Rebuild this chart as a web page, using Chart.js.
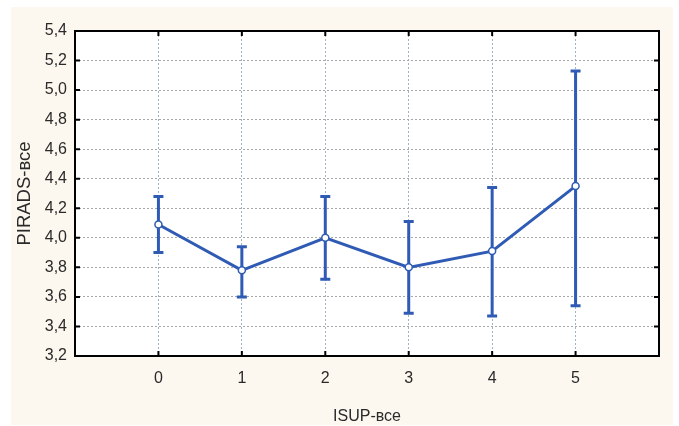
<!DOCTYPE html>
<html>
<head>
<meta charset="utf-8">
<script src="https://cdn.jsdelivr.net/npm/chart.js@4/dist/chart.umd.min.js"></script>
<style>
  body { margin: 0; background: #ffffff; }
  #wrap { width: 679px; height: 426px; }
</style>
</head>
<body>
<div id="wrap"><canvas id="myChart" width="679" height="426"></canvas></div>
<script>
'use strict';
// ISUP groups and PIRADS mean with interval bounds
const isupGroups = [0, 1, 2, 3, 4, 5];
const piradsMean = [4.09, 3.78, 4.00, 3.80, 3.91, 4.35];
const piradsLower = [3.90, 3.60, 3.72, 3.49, 3.47, 3.54];
const piradsUpper = [4.28, 3.94, 4.28, 4.11, 4.34, 5.13];
const yTicks = [3.2, 3.4, 3.6, 3.8, 4.0, 4.2, 4.4, 4.6, 4.8, 5.0, 5.2, 5.4];

const blue = '#2f5bb5';
const fontFamily = '"Liberation Sans", Arial, sans-serif';

const points = isupGroups.map((g, i) => ({ x: g, y: piradsMean[i] }));

const panelBg = {
  id: 'panelBg',
  beforeDraw(chart) {
    const ctx = chart.ctx;
    const a = chart.chartArea;
    ctx.save();
    ctx.fillStyle = '#fdf8ef';
    ctx.fillRect(11, 7, 662, 418);
    ctx.fillStyle = '#ffffff';
    ctx.fillRect(a.left, a.top, a.right - a.left, a.bottom - a.top);
    ctx.restore();
  }
};

const errorBars = {
  id: 'errorBars',
  beforeDatasetsDraw(chart) {
    const ctx = chart.ctx;
    const xs = chart.scales.x;
    const ys = chart.scales.y;
    ctx.save();
    ctx.strokeStyle = blue;
    ctx.lineWidth = 3;
    isupGroups.forEach((g, i) => {
      const px = xs.getPixelForValue(g);
      const top = ys.getPixelForValue(piradsUpper[i]);
      const bot = ys.getPixelForValue(piradsLower[i]);
      ctx.beginPath();
      ctx.moveTo(px, top);
      ctx.lineTo(px, bot);
      ctx.moveTo(px - 5, top);
      ctx.lineTo(px + 5, top);
      ctx.moveTo(px - 5, bot);
      ctx.lineTo(px + 5, bot);
      ctx.stroke();
    });
    ctx.restore();
  }
};

const frame = {
  id: 'frame',
  afterDatasetsDraw(chart) {
    const ctx = chart.ctx;
    const a = chart.chartArea;
    const xs = chart.scales.x;
    const ys = chart.scales.y;
    ctx.save();
    ctx.strokeStyle = '#000000';
    ctx.lineWidth = 2;
    ctx.strokeRect(a.left, a.top, a.right - a.left, a.bottom - a.top);
    ctx.beginPath();
    isupGroups.forEach(g => {
      const px = xs.getPixelForValue(g);
      ctx.moveTo(px, a.bottom);
      ctx.lineTo(px, a.bottom - 5);
      ctx.moveTo(px, a.top);
      ctx.lineTo(px, a.top + 5);
    });
    yTicks.forEach(v => {
      const py = ys.getPixelForValue(v);
      ctx.moveTo(a.left, py);
      ctx.lineTo(a.left + 5, py);
      ctx.moveTo(a.right, py);
      ctx.lineTo(a.right - 5, py);
    });
    ctx.stroke();
    ctx.restore();
  }
};

const config = {
  type: 'line',
  data: {
    datasets: [{
      data: points,
      borderColor: blue,
      borderWidth: 3,
      backgroundColor: '#ffffff',
      pointBackgroundColor: '#ffffff',
      pointBorderColor: blue,
      pointBorderWidth: 1.5,
      pointRadius: 3.5,
      tension: 0
    }]
  },
  options: {
    responsive: false,
    animation: false,
    layout: { padding: { top: 31, right: 20, left: 0, bottom: 0 } },
    plugins: { legend: { display: false }, tooltip: { enabled: false } },
    scales: {
      x: {
        type: 'linear',
        min: -1,
        max: 6,
        afterFit(scale) { scale.height = 70; },
        afterBuildTicks(scale) { scale.ticks = isupGroups.map(v => ({ value: v })); },
        ticks: {
          color: '#2a2a2a',
          font: { family: fontFamily, size: 16 },
          padding: 13,
          callback: v => String(v)
        },
        grid: { color: '#9fb2c6', lineWidth: 1, drawTicks: false },
        border: { display: false, dash: [2, 2] },
        title: {
          display: true,
          text: 'ISUP-все',
          color: '#2a2a2a',
          font: { family: fontFamily, size: 16 },
          padding: { top: 10, bottom: 0 }
        }
      },
      y: {
        min: 3.2,
        max: 5.4,
        afterFit(scale) { scale.width = 75; },
        afterBuildTicks(scale) { scale.ticks = yTicks.map(v => ({ value: v })); },
        ticks: {
          color: '#2a2a2a',
          font: { family: fontFamily, size: 16 },
          padding: 8,
          callback: v => v.toFixed(1).replace('.', ',')
        },
        grid: { color: '#a8a8a8', lineWidth: 1, drawTicks: false },
        border: { display: false, dash: [2, 2] },
        title: {
          display: true,
          text: 'PIRADS-все',
          color: '#2a2a2a',
          font: { family: fontFamily, size: 18.5 },
          padding: { top: 14, bottom: 0 }
        }
      }
    }
  },
  plugins: [panelBg, errorBars, frame]
};

const canvasChart = document.getElementById('myChart');
const myChart = new Chart(canvasChart, config);
</script>
</body>
</html>
